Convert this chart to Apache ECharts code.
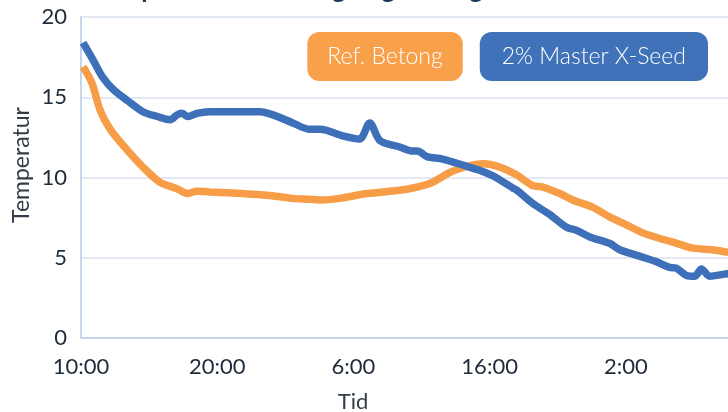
<!DOCTYPE html>
<html>
<head>
<meta charset="utf-8">
<script src="https://cdn.jsdelivr.net/npm/echarts@6/dist/echarts.min.js"></script>
<style>
  html, body { margin: 0; padding: 0; background: #fff; }
  #chart { width: 728px; height: 412px; }
</style>
</head>
<body>
<div id="chart"></div>
<script>
// timmar från 10:00
var xTicks = ['10:00', '20:00', '6:00', '16:00', '2:00'];
var yTicks = [0, 5, 10, 15, 20];

var refHours = [0.15, 0.8, 1.4, 2.15, 3.4, 4.55, 5.8, 7.05, 7.85, 8.5, 9.45, 11.9, 13.65, 15.55, 16.8, 17.55,
    19.0, 21.0, 23.4, 24.65, 25.8, 27.05, 28.3, 29.5, 30.75, 32.0, 33.15, 33.9, 35.15, 36.1, 37.55, 38.8,
    40.05, 41.25, 42.5, 43.75, 44.9, 46.35, 47.45, 48.5];
var refTemp = [16.9, 15.9, 14.2, 13.0, 11.7, 10.65, 9.7, 9.3, 9.0, 9.15, 9.1, 9.0, 8.9, 8.7, 8.65, 8.6,
    8.7, 9.0, 9.2, 9.4, 9.7, 10.3, 10.7, 10.85, 10.65, 10.15, 9.5, 9.4, 9.0, 8.6, 8.15, 7.55,
    7.05, 6.55, 6.2, 5.9, 5.6, 5.5, 5.35, 5.25];

var seedHours = [0.15, 0.9, 1.55, 2.35, 3.4, 4.55, 5.6, 6.55, 7.05, 7.4, 7.85, 8.5, 9.45, 11.9, 13.15, 14.1,
    15.55, 16.8, 17.55, 19.2, 20.45, 21.2, 21.95, 23.4, 24.35, 24.7, 25.4, 26.55, 28.3, 29.25, 30.25, 30.75,
    31.7, 32.0, 33.15, 34.4, 35.65, 36.4, 37.35, 38.8, 39.55, 41.0, 42.25, 43.2, 43.7, 44.45, 45.05, 45.55,
    46.15, 47.45, 48.5];
var seedTemp = [18.4, 17.3, 16.3, 15.5, 14.8, 14.1, 13.8, 13.6, 13.9, 14.0, 13.8, 14.0, 14.1, 14.1, 14.1, 13.9,
    13.4, 13.0, 13.0, 12.6, 12.4, 13.4, 12.3, 11.9, 11.65, 11.65, 11.3, 11.15, 10.7, 10.45, 10.1, 9.85,
    9.35, 9.2, 8.4, 7.7, 6.9, 6.7, 6.3, 5.9, 5.5, 5.1, 4.75, 4.4, 4.35, 3.9, 3.85, 4.3,
    3.85, 4.0, 4.05];

function pairs(xs, ys) {
    var out = [];
    for (var i = 0; i < xs.length; i++) {
        out.push([xs[i], ys[i]]);
    }
    return out;
}

var myChart = echarts.init(document.getElementById('chart'));
var labelFont = 'Lato, "Open Sans", sans-serif';

var option = {
    animation: false,
    title: {
        text: 'Temperaturutveckling ung betong',
        left: 88,
        top: -28,
        textStyle: { fontSize: 26, fontWeight: 'bold', color: '#1f3656', fontFamily: labelFont }
    },
    legend: {
        right: 15,
        top: 27,
        selectedMode: false,
        itemWidth: 0,
        itemHeight: 0,
        itemGap: 12,
        data: [
            {
                name: 'Ref. Betong',
                icon: 'rect',
                textStyle: { backgroundColor: '#F9A04B', borderRadius: 12, padding: [13, 20, 13, 20] }
            },
            {
                name: '2% Master X-Seed',
                icon: 'rect',
                textStyle: { backgroundColor: '#3F72B8', borderRadius: 12, padding: [13, 22, 13, 22] }
            }
        ],
        textStyle: { color: '#fff', fontSize: 23, fontFamily: labelFont, fontWeight: 300 }
    },
    grid: { left: 81, right: 0, top: 17, bottom: 74 },
    xAxis: {
        type: 'value',
        min: 0,
        max: 47.5,
        interval: 10,
        axisLine: { show: true, lineStyle: { color: '#c6d4ec', width: 2 } },
        axisTick: { show: false },
        splitLine: { show: false },
        axisLabel: {
            showMaxLabel: false,
            margin: 18,
            fontSize: 22,
            color: '#1e2b3c',
            fontFamily: labelFont,
            formatter: function (v) {
                var i = Math.round(v / 10);
                return (v % 10 === 0 && xTicks[i]) ? xTicks[i] : '';
            }
        }
    },
    yAxis: {
        type: 'value',
        min: 0,
        max: 20,
        interval: 5,
        axisLine: { show: true, lineStyle: { color: '#c6d4ec', width: 2 } },
        axisTick: { show: false },
        splitLine: { show: true, lineStyle: { color: '#d8e2f2', width: 1.5 } },
        axisLabel: {
            margin: 14,
            fontSize: 22,
            color: '#1e2b3c',
            fontFamily: labelFont,
            formatter: function (v) {
                return yTicks.indexOf(v) >= 0 ? String(v) : '';
            }
        }
    },
    graphic: [
        {
            type: 'text',
            x: 22,
            y: 165,
            rotation: Math.PI / 2,
            style: {
                text: 'Temperatur',
                align: 'center', verticalAlign: 'middle',
                textAlign: 'center', textVerticalAlign: 'middle',
                fontSize: 23, fontFamily: labelFont, fill: '#333d4a'
            }
        },
        {
            type: 'text',
            x: 353,
            y: 402,
            style: {
                text: 'Tid',
                align: 'center', verticalAlign: 'middle',
                textAlign: 'center', textVerticalAlign: 'middle',
                fontSize: 22, fontFamily: labelFont, fill: '#333d4a'
            }
        }
    ],
    series: [
        {
            name: 'Ref. Betong',
            type: 'line',
            data: pairs(refHours, refTemp),
            smooth: 0.3,
            showSymbol: false,
            lineStyle: { color: '#F79D47', width: 7.5 },
            itemStyle: { color: '#F79D47' }
        },
        {
            name: '2% Master X-Seed',
            type: 'line',
            data: pairs(seedHours, seedTemp),
            smooth: 0.3,
            showSymbol: false,
            lineStyle: { color: '#3D70B8', width: 7.5 },
            itemStyle: { color: '#3D70B8' }
        }
    ]
};

myChart.setOption(option);
</script>
</body>
</html>
